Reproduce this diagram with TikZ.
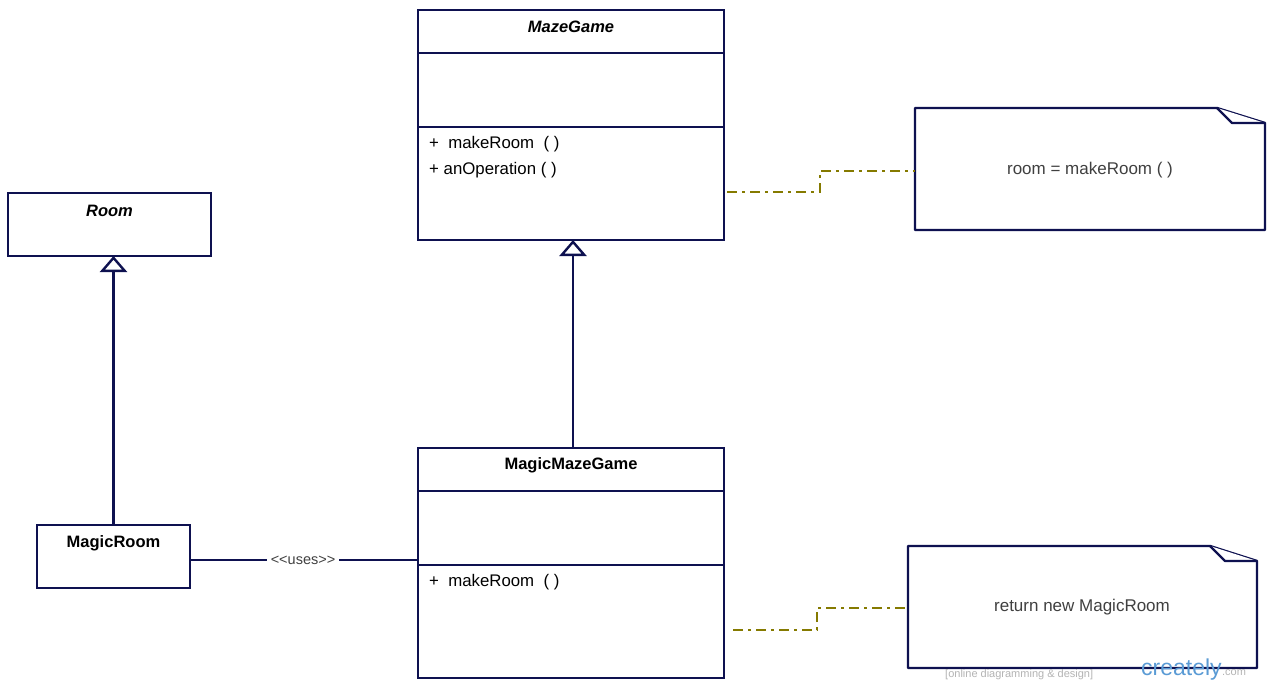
\documentclass[tikz,border=0pt]{standalone}
\usepackage{fontspec}
\setmainfont{Liberation Sans}
\usetikzlibrary{arrows.meta,calc}
\definecolor{navy}{HTML}{0E1150}
\definecolor{olivec}{HTML}{857A00}
\definecolor{notetxt}{HTML}{404040}
\definecolor{wmgray}{HTML}{B4B4B4}
\definecolor{wmblue}{HTML}{5A9BD5}
\tikzset{
  cls/.style={draw=navy, line width=2.4pt, fill=white, inner sep=0pt, outer sep=0pt, anchor=north west},
  divider/.style={draw=navy, line width=2.4pt},
  title/.style={font=\fontsize{16.5}{18}\selectfont\bfseries, text=black},
  ititle/.style={font=\fontsize{16.5}{18}\selectfont\bfseries\itshape, text=black},
  member/.style={font=\fontsize{16.8}{18}\selectfont, text=black, anchor=west, inner sep=0pt},
  notebox/.style={inner sep=0pt, outer sep=0pt, anchor=north west},
  noteline/.style={draw=navy, line width=2.4pt, fill=white, line join=round},
  notetext/.style={font=\fontsize{17}{19}\selectfont, text=notetxt},
  inherit/.style={draw=navy, line width=2.4pt, -{Triangle[open, width=27pt, length=16pt, fill=white]}},
  assoc/.style={draw=navy, line width=2.4pt},
  anchorline/.style={draw=olivec, line width=2.4pt, dash pattern=on 10pt off 5pt on 3pt off 5pt},
}
\begin{document}
\begin{tikzpicture}[x=1pt,y=-1pt]
\useasboundingbox[fill=white] (0,0) rectangle (1281,680);

% MazeGame
\node[cls, minimum width=306pt, minimum height=230pt] (mg) at (418,10) {};
\draw[divider] ($(mg.north west)+(0,-43pt)$) -- ($(mg.north east)+(0,-43pt)$);
\draw[divider] ($(mg.north west)+(0,-117pt)$) -- ($(mg.north east)+(0,-117pt)$);
\node[ititle] (mgt) at (571,27) {MazeGame};
\node[member] (mgm1) at (429,144) {+\ \ makeRoom\ \ ( )};
\node[member] (mgm2) at (429,170) {+ anOperation ( )};

% Room
\node[cls, minimum width=203pt, minimum height=63pt] (room) at (8,193) {};
\node[ititle] (roomt) at (109.5,211) {Room};

% MagicRoom
\node[cls, minimum width=153pt, minimum height=63pt] (mr) at (37,525) {};
\node[title] (mrt) at (113.5,543) {MagicRoom};

% MagicMazeGame
\node[cls, minimum width=306pt, minimum height=230pt] (mmg) at (418,448) {};
\draw[divider] ($(mmg.north west)+(0,-43pt)$) -- ($(mmg.north east)+(0,-43pt)$);
\draw[divider] ($(mmg.north west)+(0,-117pt)$) -- ($(mmg.north east)+(0,-117pt)$);
\node[title] (mmgt) at (571,465) {MagicMazeGame};
\node[member] (mmgm1) at (429,582) {+\ \ makeRoom\ \ ( )};

% Note 1
\node[notebox, minimum width=350pt, minimum height=122pt] (n1) at (915,108) {};
\draw[noteline] (n1.north west) -- ++(302,0) coordinate (n1f) -- (n1.north east |- 0,123) -- (n1.south east) -- (n1.south west) -- cycle;
\draw[noteline] (n1f) -- ++(15,15) -- (n1.north east |- 0,123);
\node[notetext] (n1t) at (1090,170) {room = makeRoom ( )};

% Note 2
\node[notebox, minimum width=349pt, minimum height=122pt] (n2) at (908,546) {};
\draw[noteline] (n2.north west) -- ++(302,0) coordinate (n2f) -- (n2.north east |- 0,561) -- (n2.south east) -- (n2.south west) -- cycle;
\draw[noteline] (n2f) -- ++(15,15) -- (n2.north east |- 0,561);
\node[notetext] (n2t) at (1082,607) {return new MagicRoom};

% watermark
\node[anchor=base west, inner sep=0pt, font=\fontsize{11}{12}\selectfont, text=wmgray] (wm1) at (945,677) {[online diagramming \& design]};
\node[anchor=base west, inner sep=0pt, font=\fontsize{23}{24}\selectfont, text=wmblue] (wm2) at (1141,675) {creately};
\node[anchor=base west, inner sep=0pt, font=\fontsize{11}{12}\selectfont, text=wmgray] (wm3) at (wm2.base east) {.com};

% inheritance
\draw[inherit] (mr.north) -- (mr.north |- room.south);
\draw[inherit] (573,448) coordinate (mmgtop) -- (mmgtop |- mg.south);

% uses
\node[font=\fontsize{14.5}{16}\selectfont, text=notetxt, fill=white, inner sep=4pt] (uses) at (303,560) {{<}{<}uses{>}{>}};
\draw[assoc] (mr.east |- 0,560) -- (uses.west);
\draw[assoc] (uses.east) -- (mmg.west |- 0,560);

% note anchors
\draw[anchorline] ($(mg.east |- 0,192)+(3pt,0)$) -| (820,171) -- (n1.west |- 0,171);
\draw[anchorline] ($(mmg.east |- 0,630)+(9pt,0)$) -| (817,608) -- (n2.west |- 0,608);
\end{tikzpicture}
\end{document}
